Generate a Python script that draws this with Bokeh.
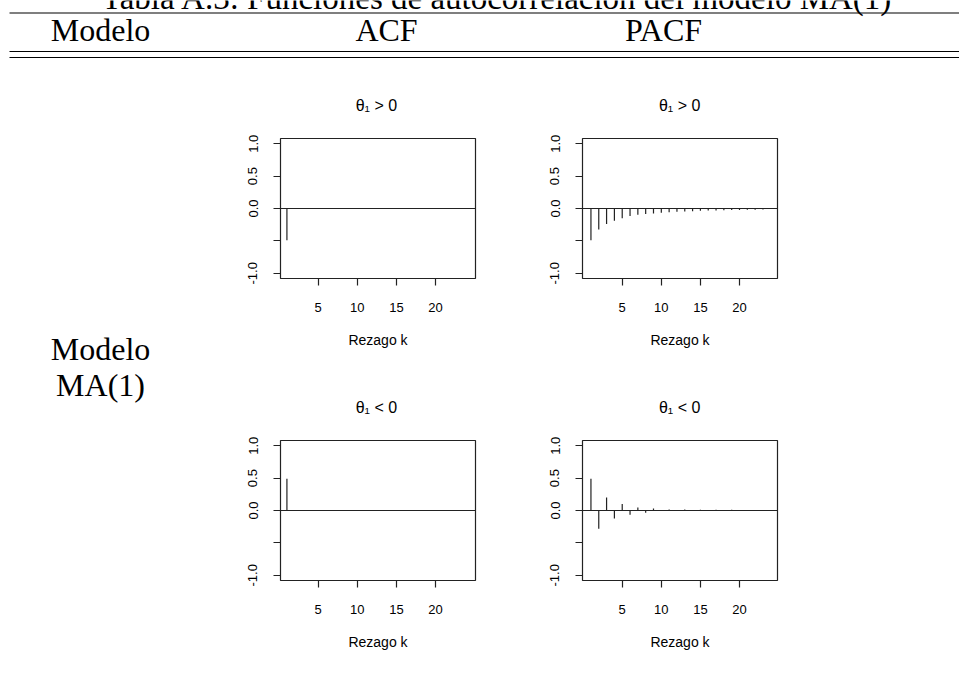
from bokeh.plotting import figure
from bokeh.models import Range1d, FixedTicker, Span, ColumnDataSource
from bokeh.layouts import column, row
from bokeh.core.properties import value
from bokeh.embed import file_html
from bokeh.resources import INLINE

# ---------------- data ----------------
table_caption = "Tabla A.3: Funciones de autocorrelación del modelo MA(1)"
header_labels = ["Modelo", "ACF", "PACF"]
model_lines = ["Modelo", "MA(1)"]
panel_titles = ["θ₁ > 0", "θ₁ < 0"]
x_label = "Rezago k"

acf_lags = [1, 2, 3, 4, 5, 6, 7, 8, 9, 10, 11, 12,
            13, 14, 15, 16, 17, 18, 19, 20, 21, 22, 23, 24]
acf_theta_pos = [-0.49, 0, 0, 0, 0, 0, 0, 0, 0, 0, 0, 0,
                 0, 0, 0, 0, 0, 0, 0, 0, 0, 0, 0, 0]
acf_theta_neg = [0.49, 0, 0, 0, 0, 0, 0, 0, 0, 0, 0, 0,
                 0, 0, 0, 0, 0, 0, 0, 0, 0, 0, 0, 0]

pacf_lags = [1, 2, 3, 4, 5, 6, 7, 8, 9, 10, 11, 12,
             13, 14, 15, 16, 17, 18, 19, 20, 21, 22, 23]
pacf_theta_pos = [-0.49, -0.325, -0.24, -0.188, -0.15, -0.115, -0.098, -0.083,
                  -0.076, -0.066, -0.057, -0.052, -0.046, -0.041, -0.036, -0.031,
                  -0.031, -0.026, -0.025, -0.024, -0.02, -0.02, -0.015]
pacf_theta_neg = [0.49, -0.28, 0.20, -0.125, 0.10, -0.065, 0.048, -0.035,
                  0.032, -0.005, 0.015, -0.004, 0.014, -0.003, 0.013, -0.002,
                  0.012, -0.002, 0.011, -0.001, 0.001, -0.001, 0.001]

x_ticks = [5, 10, 15, 20]
y_ticks = [-1.0, -0.5, 0.0, 0.5, 1.0]
y_tick_labels = ["-1.0", "", "0.0", "0.5", "1.0"]

# ---------------- style ----------------
SERIF = value("Liberation Serif")
SANS = "Liberation Sans"
INK = "#222222"
W = 959


def text_fig(width, height, x0, x1, y0, y1):
    p = figure(width=width, height=height, x_range=Range1d(x0, x1),
               y_range=Range1d(y1, y0), x_axis_type=None, y_axis_type=None,
               min_border=0, output_backend="svg", toolbar_location=None,
               title_location=None)
    p.outline_line_color = None
    p.background_fill_color = "white"
    p.border_fill_color = "white"
    return p


# header (caption, rules, column heads)
header = text_fig(W, 85, 0, W, 0, 85)
header.text(x=[497], y=[-3], text=[table_caption], text_font=SERIF,
            text_font_size="33px", text_align="center",
            text_baseline="alphabetic", text_color="black")
header.segment(x0=[9, 9, 9], y0=[12.5, 51, 57], x1=[W, W, W], y1=[12.5, 51, 57],
               line_color="black", line_width=1.2)
header.text(x=[100, 386, 663], y=[29, 29, 29], text=header_labels,
            text_font=SERIF, text_font_size="32px", text_align="center",
            text_baseline="alphabetic", text_color="black")

# left label
left = text_fig(230, 582, 0, 230, 85, 667)
left.text(x=[100, 100], y=[348, 384], text=model_lines, text_font=SERIF,
          text_font_size="32px", text_align="center",
          text_baseline="alphabetic", text_color="black")


def title_fig(title, x0, x1, y0, cx):
    t = text_fig(x1 - x0, 48, x0, x1, y0, y0 + 48)
    t.text(x=[cx], y=[y0 + 19.5], text=[title], text_font=value(SANS),
           text_font_size="16px", text_align="center",
           text_baseline="alphabetic", text_color="black")
    return t


def panel(lags, vals, xr, mleft, mright, mbottom):
    p = figure(frame_width=195, frame_height=140,
               x_range=Range1d(*xr), y_range=Range1d(-1.08, 1.08),
               min_border_left=mleft, min_border_right=mright,
               min_border_top=5, min_border_bottom=mbottom,
               output_backend="svg", toolbar_location=None,
               title_location=None)
    p.background_fill_color = "white"
    p.border_fill_color = "white"
    p.outline_line_color = INK
    p.outline_line_width = 1.2
    p.xgrid.visible = False
    p.ygrid.visible = False

    src = ColumnDataSource(dict(lag=lags, v=vals, z=[0] * len(lags)))
    p.segment(x0="lag", y0="z", x1="lag", y1="v", source=src,
              line_color=INK, line_width=1.2)
    p.add_layout(Span(location=0, dimension="width", line_color=INK,
                      line_width=1.2))

    xa = p.xaxis[0]
    xa.ticker = FixedTicker(ticks=x_ticks)
    xa.axis_label = x_label
    xa.axis_label_text_font = SANS
    xa.axis_label_text_font_size = "14px"
    xa.axis_label_text_font_style = "normal"
    xa.axis_label_text_color = "black"
    xa.axis_label_standoff = 17
    xa.major_label_standoff = 17

    ya = p.yaxis[0]
    ya.ticker = FixedTicker(ticks=y_ticks)
    ya.major_label_overrides = {t: s for t, s in zip(y_ticks, y_tick_labels)}
    ya.major_label_orientation = "vertical"
    ya.major_label_standoff = 16

    for ax in (xa, ya):
        ax.axis_line_color = None
        ax.major_tick_in = 0
        ax.major_tick_out = 7
        ax.major_tick_line_color = INK
        ax.major_tick_line_width = 1.2
        ax.minor_tick_line_color = None
        ax.major_label_text_font = SANS
        ax.major_label_text_font_size = "13px"
        ax.major_label_text_color = "black"
    return p


ACF_X = (0.18, 25.1)
PACF_X = (-0.08, 24.86)

acf_col = column(
    title_fig(panel_titles[0], 230, 530, 85, 377.5),
    panel(acf_lags, acf_theta_pos, ACF_X, 50, 55, 109),
    title_fig(panel_titles[1], 230, 530, 387, 377.5),
    panel(acf_lags, acf_theta_neg, ACF_X, 50, 55, 87),
)
pacf_col = column(
    title_fig(panel_titles[0], 530, 830, 85, 679.5),
    panel(pacf_lags, pacf_theta_pos, PACF_X, 52, 53, 109),
    title_fig(panel_titles[1], 530, 830, 387, 679.5),
    panel(pacf_lags, pacf_theta_neg, PACF_X, 52, 53, 87),
)

body = row(left, acf_col, pacf_col)
layout = column(header, body)

open("out.html", "w").write(file_html(layout, INLINE))
